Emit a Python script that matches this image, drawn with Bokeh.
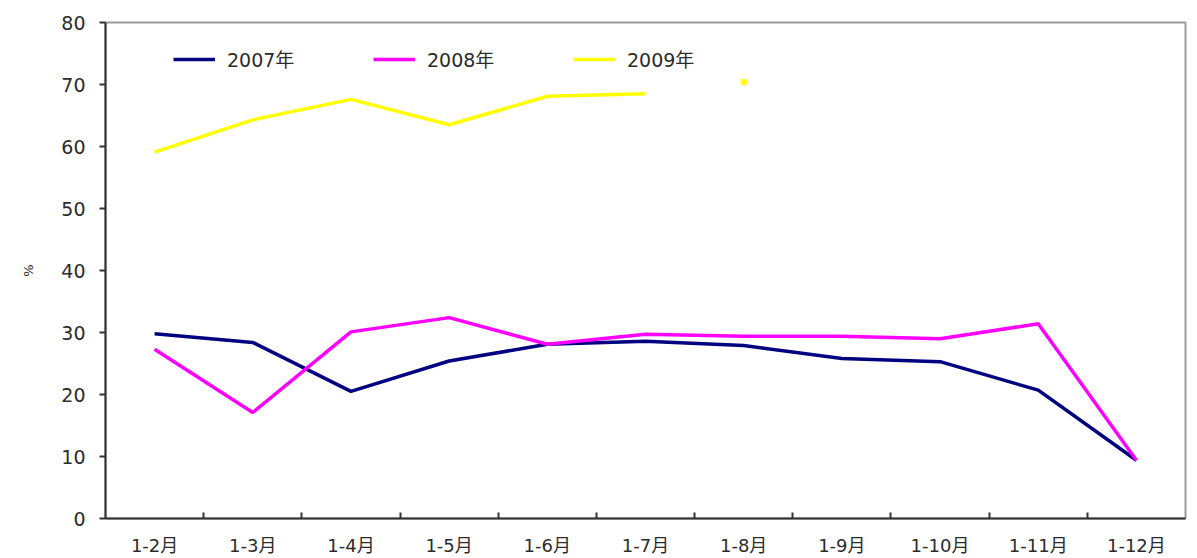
from bokeh.plotting import figure
from bokeh.models import (ColumnDataSource, FixedTicker, Legend, LegendItem)
from bokeh.embed import file_html
from bokeh.resources import INLINE

# Cumulative-period categories and growth rates (%)
months = ["1-2月", "1-3月", "1-4月", "1-5月", "1-6月", "1-7月",
          "1-8月", "1-9月", "1-10月", "1-11月", "1-12月"]
rate_2007 = [29.8, 28.4, 20.5, 25.4, 28.1, 28.6, 27.9, 25.8, 25.3, 20.7, 9.4]
rate_2008 = [27.3, 17.1, 30.1, 32.4, 28.1, 29.7, 29.4, 29.4, 29.0, 31.4, 9.4]
rate_2009 = [59.1, 64.3, 67.6, 63.5, 68.1, 68.5, 70.4]
series_names = ["2007年", "2008年", "2009年"]
y_ticks = [0, 10, 20, 30, 40, 50, 60, 70, 80]

FONT = "'DejaVu Sans', 'Noto Sans CJK SC'"
TEXT = "#2b2b2b"

# Each period sits in the middle of a unit-wide slot
xc = [i + 0.5 for i in range(len(months))]

p = figure(width=1197, height=558, output_backend="svg", toolbar_location=None,
           x_range=(0, len(months)), y_range=(y_ticks[0], y_ticks[-1]),
           min_border_left=105, min_border_right=12,
           min_border_top=22, min_border_bottom=40)
p.background_fill_color = "white"
p.border_fill_color = "white"
p.outline_line_color = "#9a9a9a"
p.outline_line_width = 2
p.xgrid.visible = False
p.ygrid.visible = False

src07 = ColumnDataSource(dict(x=xc, y=rate_2007))
src08 = ColumnDataSource(dict(x=xc, y=rate_2008))
n09 = len(rate_2009)
src09 = ColumnDataSource(dict(x=xc[:n09 - 1], y=rate_2009[:n09 - 1]))
src09_last = ColumnDataSource(dict(x=xc[n09 - 1:n09], y=rate_2009[n09 - 1:]))

r07 = p.line("x", "y", source=src07, line_color="#000080", line_width=3.5)
r08 = p.line("x", "y", source=src08, line_color="#ff00ff", line_width=3.5)
r09 = p.line("x", "y", source=src09, line_color="#ffff00", line_width=3.5)
p.scatter("x", "y", source=src09_last, marker="square", size=5,
          fill_color="#ffff00", line_color="#ffff00")

# X axis: labels at slot centres, short inward ticks at slot boundaries
xa = p.xaxis[0]
xa.ticker = FixedTicker(ticks=xc, minor_ticks=list(range(1, len(months))))
xa.major_label_overrides = {x: m for x, m in zip(xc, months)}
xa.major_tick_line_color = None
xa.major_tick_in = 0
xa.major_tick_out = 0
xa.minor_tick_in = 6
xa.minor_tick_out = 0
xa.minor_tick_line_color = "#333333"
xa.minor_tick_line_width = 2
xa.axis_line_color = "#333333"
xa.axis_line_width = 2
xa.major_label_standoff = 16
xa.major_label_text_font = FONT
xa.major_label_text_font_size = "18px"
xa.major_label_text_color = TEXT

ya = p.yaxis[0]
ya.ticker = FixedTicker(ticks=y_ticks)
ya.minor_tick_line_color = None
ya.major_tick_in = 0
ya.major_tick_out = 6
ya.major_tick_line_color = "#333333"
ya.major_tick_line_width = 2
ya.axis_line_color = "#333333"
ya.axis_line_width = 2
ya.major_label_standoff = 14
ya.major_label_text_font = FONT
ya.major_label_text_font_size = "19px"
ya.major_label_text_color = TEXT
ya.axis_label = "%"
ya.axis_label_text_font = FONT
ya.axis_label_text_font_size = "13px"
ya.axis_label_text_font_style = "normal"
ya.axis_label_text_color = TEXT
ya.axis_label_standoff = 22

legend = Legend(items=[LegendItem(label=series_names[0], renderers=[r07]),
                       LegendItem(label=series_names[1], renderers=[r08]),
                       LegendItem(label=series_names[2], renderers=[r09])],
                orientation="horizontal", location=(68, 446))
legend.border_line_color = None
legend.background_fill_alpha = 0
legend.padding = 0
legend.margin = 0
legend.spacing = 0
legend.glyph_width = 42
legend.glyph_height = 20
legend.label_height = 20
legend.label_width = 146
legend.label_standoff = 12
legend.label_text_font = FONT
legend.label_text_font_size = "19px"
legend.label_text_color = TEXT
p.add_layout(legend)

open("out.html", "w").write(file_html(p, INLINE))
